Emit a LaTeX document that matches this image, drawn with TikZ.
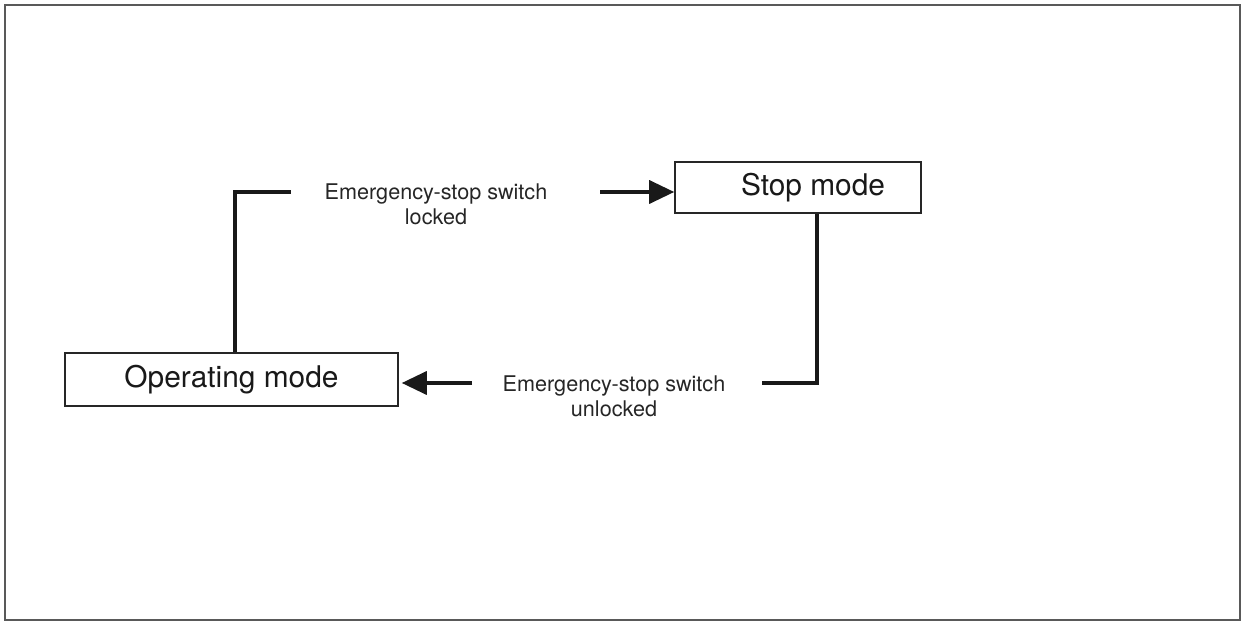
\documentclass[tikz,border=0pt]{standalone}
\usepackage{fontspec}
\setmainfont{TeX Gyre Heros}
\usetikzlibrary{arrows.meta}

\tikzset{
  modebox/.style={draw=black!85, line width=0.9pt, fill=white, inner sep=0pt},
  modetext/.style={font=\fontsize{17}{20}\selectfont, text=black!90},
  condtext/.style={font=\fontsize{12.3}{14.2}\selectfont, align=center, text=black!85},
  wire/.style={draw=black!90, line width=2pt},
  trigger/.style={wire, -{Triangle[length=0.5cm, width=0.46cm]}}
}

\begin{document}
\begin{tikzpicture}[x={(0.02cm,0cm)},y={(0cm,-0.02cm)}]
\useasboundingbox (0,0) rectangle (1243,624);
\draw[black!65, line width=0.8pt] (5,5) rectangle (1240,620);

% the two modes
\node[modebox, modetext, minimum width=6.66cm, minimum height=1.06cm] (op) at (231.5,379.5) {Operating mode};
\node[modebox, minimum width=4.92cm, minimum height=1.02cm] (stop) at (798,187.5) {};
\node[modetext] (stoplabel) at (813,187.5) {Stop mode};

% locking: operating -> stop
\coordinate (lockA) at (291,192);
\coordinate (lockB) at (600,192);
\node[condtext] (lock) at (436,204.5) {Emergency-stop switch\\locked};
\draw[wire] ([xshift=0.07cm]op.north) |- (lockA);
\draw[trigger] (lockB) -- (lockB -| stop.west);

% unlocking: stop -> operating
\coordinate (unlockA) at (762,383);
\coordinate (unlockB) at (472,383);
\node[condtext] (unlock) at (614,396.5) {Emergency-stop switch\\unlocked};
\draw[wire] ([xshift=0.08cm]stoplabel |- stop.south) |- (unlockA);
\draw[trigger] (unlockB) -- ([xshift=0.06cm]unlockB -| op.east);
\end{tikzpicture}
\end{document}
